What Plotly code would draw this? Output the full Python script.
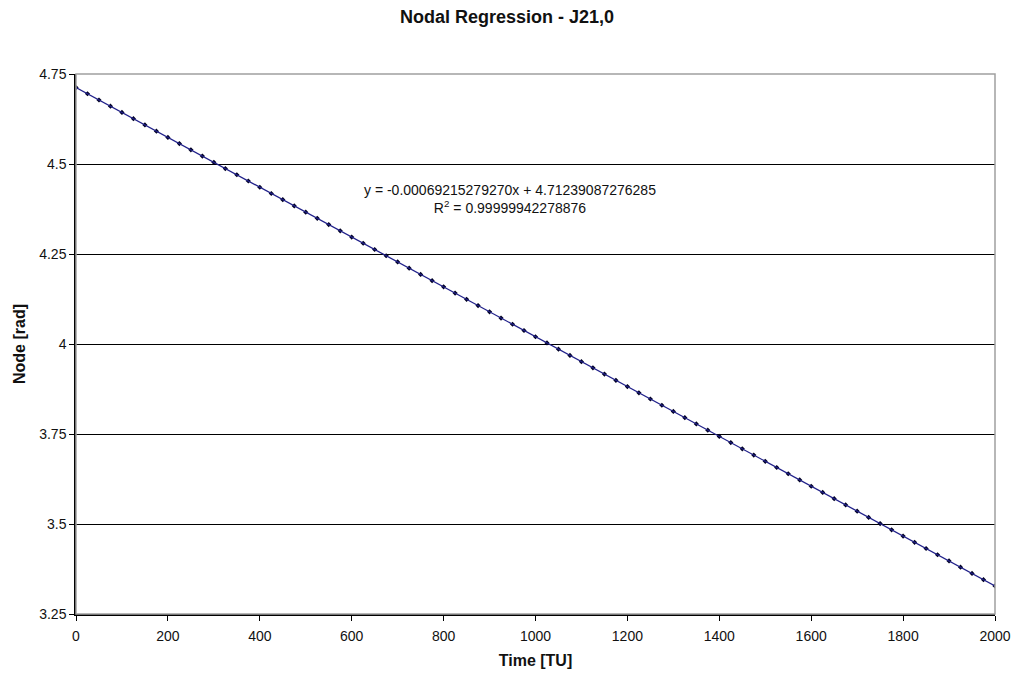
import plotly.graph_objects as go

# ---- data ----
time_tu = [i * 25 for i in range(81)]
node_rad = [
    4.7124, 4.6951, 4.6778, 4.6605, 4.6432, 4.6259, 4.6085, 4.5912, 4.5739, 4.5566,
    4.5393, 4.5220, 4.5047, 4.4874, 4.4701, 4.4528, 4.4354, 4.4181, 4.4008, 4.3835,
    4.3662, 4.3490, 4.3317, 4.3144, 4.2971, 4.2798, 4.2625, 4.2452, 4.2279, 4.2106,
    4.1932, 4.1760, 4.1587, 4.1414, 4.1240, 4.1067, 4.0894, 4.0721, 4.0548, 4.0375,
    4.0202, 4.0029, 3.9856, 3.9683, 3.9510, 3.9337, 3.9164, 3.8991, 3.8818, 3.8645,
    3.8472, 3.8299, 3.8126, 3.7953, 3.7780, 3.7607, 3.7434, 3.7261, 3.7088, 3.6915,
    3.6742, 3.6569, 3.6396, 3.6223, 3.6049, 3.5876, 3.5703, 3.5530, 3.5357, 3.5184,
    3.5011, 3.4838, 3.4665, 3.4492, 3.4319, 3.4146, 3.3973, 3.3800, 3.3627, 3.3454,
    3.3281,
]
trend_x = [0, 2000]
trend_y = [4.7124, 3.3281]

x_ticks = [0, 200, 400, 600, 800, 1000, 1200, 1400, 1600, 1800, 2000]
y_ticks = [3.25, 3.5, 3.75, 4, 4.25, 4.5, 4.75]
y_tick_text = ["3.25", "3.5", "3.75", "4", "4.25", "4.5", "4.75"]

title_text = "Nodal Regression - J21,0"
eq_text = "y = -0.00069215279270x + 4.71239087276285<br>R<sup>2</sup> = 0.99999942278876"

FONT = "Arial, Liberation Sans, sans-serif"

fig = go.Figure()
fig.add_trace(go.Scatter(
    x=time_tu, y=node_rad, mode="markers",
    marker=dict(symbol="diamond", size=4, color="#000022"),
    showlegend=False, hoverinfo="x+y",
))
fig.add_trace(go.Scatter(
    x=trend_x, y=trend_y, mode="lines",
    line=dict(color="#20208a", width=1.3),
    showlegend=False, hoverinfo="skip",
))

fig.add_annotation(
    x=945, y=4.404, xref="x", yref="y", text=eq_text, showarrow=False,
    font=dict(family=FONT, size=14, color="#111111"), align="center",
)

fig.add_shape(type="rect", xref="paper", yref="paper", x0=0, y0=0, x1=1, y1=1,
              line=dict(color="#a0a0a0", width=1.5), layer="above")

fig.update_layout(
    width=1014, height=676,
    margin=dict(l=76, r=19, t=74, b=62),
    paper_bgcolor="white", plot_bgcolor="white",
    font=dict(family=FONT, size=14, color="#111111"),
    title=dict(text="<b>" + title_text + "</b>", x=0.5, xanchor="center",
               y=0.975, yanchor="middle", font=dict(size=18, color="#111111")),
    xaxis=dict(
        range=[0, 2000], tickvals=x_ticks, ticks="outside", ticklen=5,
        tickcolor="black", showline=True, linecolor="black", linewidth=1.5,
        showgrid=False, zeroline=False, automargin=False,
        ticklabelstandoff=3,
        title=dict(text="<b>Time [TU]</b>", font=dict(size=16), standoff=12),
        tickfont=dict(size=14),
    ),
    yaxis=dict(
        range=[3.25, 4.75], tickvals=y_ticks, ticktext=y_tick_text,
        ticks="outside", ticklen=5, tickcolor="black",
        showline=True, linecolor="black", linewidth=1.5,
        showgrid=True, gridcolor="black", gridwidth=1.2, zeroline=False,
        automargin=False,
        title=dict(text="<b>Node [rad]</b>", font=dict(size=16), standoff=10),
        tickfont=dict(size=14),
    ),
)

# remove the page's default body margin so the figure fills the window exactly
fig.write_html("out.html",
               config={"displayModeBar": False},
               post_script="document.body.style.margin='0px';document.body.style.overflow='hidden';")
